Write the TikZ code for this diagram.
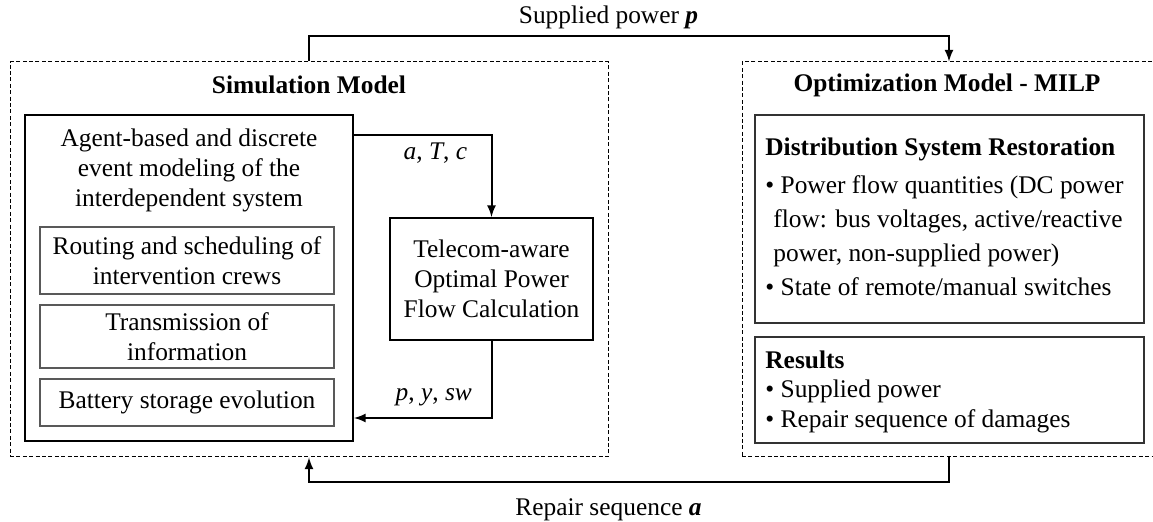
\documentclass[tikz,border=0pt]{standalone}
\usepackage{fontspec}
\setmainfont{Liberation Serif}
\usetikzlibrary{arrows}

\begin{document}
\begin{tikzpicture}[x=0.5pt,y=-0.5pt,>=latex,font=\fontsize{12.7}{15}\selectfont]
	\tikzstyle{model} = [draw,dash pattern=on 2pt off 1.2pt,line width=0.5pt,inner sep=0]
	\tikzstyle{block} = [draw,line width=1pt,inner sep=0]
	\tikzstyle{task}  = [draw=black!65,line width=0.6pt,minimum width=147pt,align=center,inner sep=0]
	\tikzstyle{title} = [font=\fontsize{12.7}{15}\selectfont\bfseries]
	\tikzstyle{flow}  = [->,line width=1pt]
	\useasboundingbox (0,0) rectangle (1153,522);
	% simulation side
	\node[model,minimum width=299pt,minimum height=197.5pt]	(sim)		at (309,259.5)	{};
	\node[title]				(simtitle)	at (309,85)		{Simulation Model};
	\node[block,minimum width=164pt,minimum height=163pt]	(agent)		at (189,278)	{};
	\node[align=center]			(agenttxt)	at (189,170)	{Agent-based and discrete\\ event modeling of the\\ interdependent system};
	\node[task,minimum height=33.5pt]	(routing)	at (187,260.5)	{Routing and scheduling of\\ intervention crews};
	\node[task,minimum height=31.5pt]	(transm)	at (187,336.5)	{Transmission of\\ information};
	\node[task,minimum height=23.5pt]	(battery)	at (187,402.5)	{Battery storage evolution};
	\node[block,minimum width=101.5pt,minimum height=61pt,align=center]	(opf)	at (491.5,279)	{Telecom-aware\\ Optimal Power\\ Flow Calculation};
	% optimization side
	\node[model,minimum width=207pt,minimum height=197.5pt]	(opt)		at (949,259.5)	{};
	\node[title]				(opttitle)	at (947,85)		{Optimization Model - MILP};
	\node[block,draw=black!80,line width=0.8pt,minimum width=194.5pt,minimum height=104pt]	(restor)	at (949.5,219)	{};
	\node[block,draw=black!80,line width=0.8pt,minimum width=194.5pt,minimum height=53pt]	(results)	at (949.5,390)	{};
	\node[anchor=north west,align=left,inner sep=0,font=\fontsize{12.7}{17}\selectfont]	(restortxt)	at (765,137)
		{\textbf{Distribution System Restoration}\\[2pt]
		 \textbullet{} Power flow quantities (DC power\\
		 \hspace*{4pt}flow: bus voltages, active/reactive\\
		 \hspace*{4pt}power, non-supplied power)\\
		 \textbullet{} State of remote/manual switches};
	\node[anchor=north west,align=left,inner sep=0,font=\fontsize{12.7}{14.8}\selectfont]	(resultstxt)	at (765,350)
		{\textbf{Results}\\
		 \textbullet{} Supplied power\\
		 \textbullet{} Repair sequence of damages};
	% exchanges
	\draw[flow] (sim.north) -- ++(0,-25) -| node[pos=0.234,above] {Supplied power \textbf{\textit{p}}} (opt.north);
	\draw[flow] (opt.south) -- ++(0,25) -| node[pos=0.266,below=4.5pt] {Repair sequence \textbf{\textit{a}}} (sim.south);
	\draw[flow] ([yshift=-10.5pt]agent.north east) -| node[pos=0.296,below] {\textit{a}, \textit{T}, \textit{c}} (opf.north);
	\draw[flow] (opf.south) |- node[pos=0.71,above=2pt] {\textit{p}, \textit{y}, \textit{sw}} ([yshift=12pt]agent.south east);
\end{tikzpicture}
\end{document}
